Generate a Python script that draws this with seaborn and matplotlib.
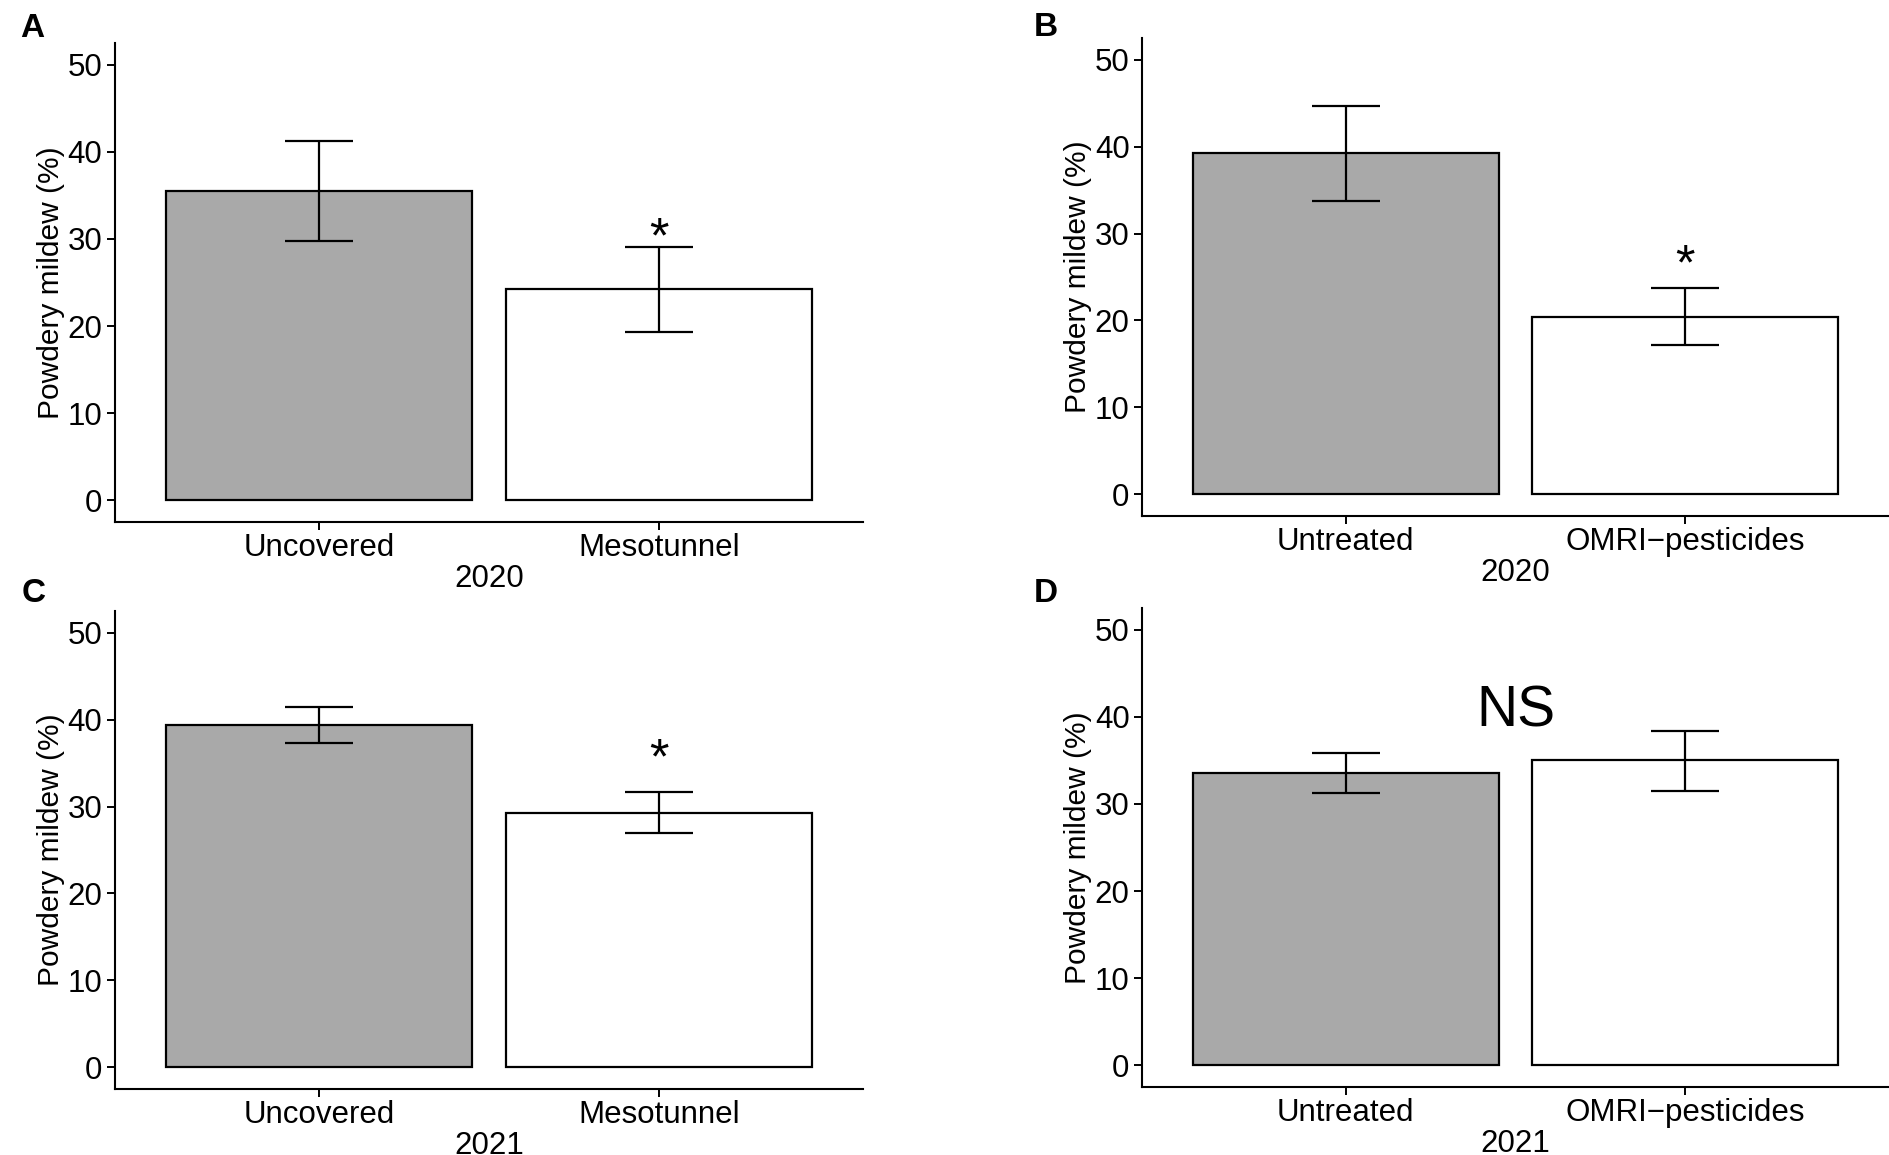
import numpy as np
import pandas as pd
import matplotlib
matplotlib.use("Agg")
import matplotlib.pyplot as plt
import seaborn as sns

# 数据
cover_labels = ["Uncovered", "Mesotunnel"]
spray_labels = ["Untreated", "OMRI\u2212pesticides"]

a_mean = [35.5, 24.2]
a_low = [29.8, 19.3]
a_high = [41.2, 29.1]

b_mean = [39.3, 20.4]
b_low = [33.8, 17.2]
b_high = [44.7, 23.7]

c_mean = [39.4, 29.3]
c_low = [37.3, 26.9]
c_high = [41.5, 31.7]

d_mean = [33.6, 35.0]
d_low = [31.3, 31.5]
d_high = [35.9, 38.4]

years = ["2020", "2020", "2021", "2021"]
panel_letters = ["A", "B", "C", "D"]
y_ticks = [0, 10, 20, 30, 40, 50]

# significance marks: (label, x index, y baseline)
marks = [("*", 1, 28.4), ("*", 1, 24.7), ("*", 1, 33.8), ("NS", 0.5, 38.9)]

sns.set_theme(style="white")
plt.rcParams["font.family"] = ["Liberation Sans", "DejaVu Sans"]
plt.rcParams["text.color"] = "black"
plt.rcParams["axes.labelcolor"] = "black"

fig = plt.figure(figsize=(18.89, 11.55), dpi=100)
W, H = 1889, 1155
boxes = [(115, 43, 863, 522), (1142, 38, 1889, 516),
         (115, 611, 863, 1089), (1142, 608, 1889, 1087)]
letter_pos = [(20, 37), (1034, 36), (22, 602), (1034, 602)]

panels = [(cover_labels, a_mean, a_low, a_high),
          (spray_labels, b_mean, b_low, b_high),
          (cover_labels, c_mean, c_low, c_high),
          (spray_labels, d_mean, d_low, d_high)]

fs = 22.5
for i, (cats, mean, low, high) in enumerate(panels):
    x0, y0, x1, y1 = boxes[i]
    ax = fig.add_axes([x0 / W, 1 - y1 / H, (x1 - x0) / W, (y1 - y0) / H])
    df = pd.DataFrame({"treatment": cats, "mildew": mean})
    sns.barplot(data=df, x="treatment", y="mildew", hue="treatment",
                palette=["#A9A9A9", "white"], width=0.9, edgecolor="black",
                linewidth=1.6, errorbar=None, legend=False, ax=ax)
    m = np.array(mean)
    yerr = [m - np.array(low), np.array(high) - m]
    ax.errorbar(x=[0, 1], y=mean, yerr=yerr, fmt="none", ecolor="black",
                elinewidth=1.6, capsize=24.5, capthick=1.6, zorder=5)

    ax.set_xlim(-0.6, 1.6)
    ax.set_ylim(-2.5, 52.5)
    ax.set_yticks(y_ticks)
    ax.set_xlabel(years[i], fontsize=fs, labelpad=1)
    ax.set_ylabel("Powdery mildew (%)", fontsize=21.5, labelpad=2)
    ax.tick_params(axis="both", labelsize=fs, length=6, width=1.4,
                   color="black", labelcolor="black", direction="out",
                   left=True, bottom=True)
    ax.tick_params(axis="x", pad=2)
    ax.tick_params(axis="y", pad=3)
    for side in ["top", "right"]:
        ax.spines[side].set_visible(False)
    for side in ["left", "bottom"]:
        ax.spines[side].set_color("black")
        ax.spines[side].set_linewidth(1.5)

    txt, xm, ym = marks[i]
    size = 36 if txt == "*" else 41
    ax.text(xm, ym, txt, ha="center", va="baseline", fontsize=size,
            color="black")

    lx, ly = letter_pos[i]
    fig.text(lx / W, 1 - ly / H, panel_letters[i], fontsize=24,
             fontweight="bold", ha="left", va="baseline", color="black")

fig.savefig("out.png", dpi=100, facecolor="white")
